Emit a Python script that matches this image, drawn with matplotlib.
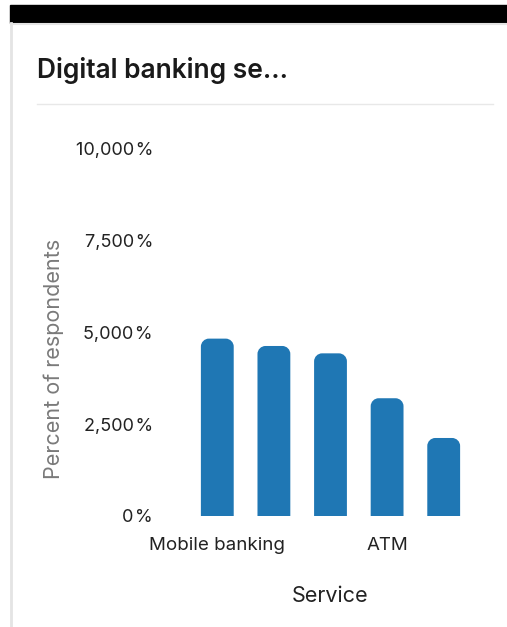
import numpy as np
import matplotlib.pyplot as plt
from matplotlib.patches import Rectangle, PathPatch
from matplotlib.path import Path
from matplotlib.lines import Line2D
from matplotlib.ticker import FuncFormatter

# Survey data: share of respondents per service
services = ["Mobile banking", "Internet banking", "Card payments", "ATM", "Mobile wallet"]
respondents_pct = [4820, 4620, 4420, 3200, 2120]
y_ticks = [0, 2500, 5000, 7500, 10000]
shown_ticks = [0, 3]  # only every third category label fits

plt.rcParams["font.family"] = ["Inter", "DejaVu Sans"]

W, H = 507, 627
fig = plt.figure(figsize=(W / 100, H / 100), dpi=100)


def px(x, y):
    """Pixel position (from top-left) to figure fraction."""
    return x / W, 1 - y / H


# Card frame and header strip
fig.patches.append(Rectangle(px(10, 23), 1, 18 / H, transform=fig.transFigure,
                             color="black", zorder=0))
fig.add_artist(Line2D([11 / W, 11 / W], [0, 1 - 23 / H], color="#e4e4e4", lw=2))
fig.add_artist(Line2D([11 / W, 1], [1 - 24 / H] * 2, color="#e4e4e4", lw=1.5))
fig.add_artist(Line2D([37 / W, 493 / W], [1 - 104 / H] * 2, color="#e8e8e8", lw=1))

x0, y0 = px(37, 78)
fig.text(x0, y0, "Digital banking se...", fontsize=19, fontweight="semibold",
         color="#1a1a1a", va="baseline", ha="left")

left, top = px(189, 148)
right, bottom = px(472, 516)
ax = fig.add_axes([left, bottom, right - left, top - bottom])
ax.set_xlim(-0.5, len(services) - 0.5)
ax.set_ylim(0, 10000)
for s in ax.spines.values():
    s.set_visible(False)


def rounded_bar(ax, x, h, width, r_px, color):
    """Bar with rounded top corners, radius given in pixels."""
    bb = ax.get_window_extent()
    x_lo, x_hi = ax.get_xlim()
    y_lo, y_hi = ax.get_ylim()
    rx = r_px * (x_hi - x_lo) / bb.width
    ry = r_px * (y_hi - y_lo) / bb.height
    k = 0.5523
    l, r = x - width / 2, x + width / 2
    verts = [
        (l, 0), (l, h - ry),
        (l, h - ry + k * ry), (l + rx - k * rx, h), (l + rx, h),
        (r - rx, h),
        (r - rx + k * rx, h), (r, h - ry + k * ry), (r, h - ry),
        (r, 0), (l, 0),
    ]
    codes = [Path.MOVETO, Path.LINETO,
             Path.CURVE4, Path.CURVE4, Path.CURVE4,
             Path.LINETO,
             Path.CURVE4, Path.CURVE4, Path.CURVE4,
             Path.LINETO, Path.CLOSEPOLY]
    ax.add_patch(PathPatch(Path(verts, codes), facecolor=color, edgecolor="none"))


for i, v in enumerate(respondents_pct):
    rounded_bar(ax, i, v, 0.58, 8, "#1f77b4")

ax.set_yticks(y_ticks)
ax.yaxis.set_major_formatter(FuncFormatter(lambda v, _: f"{v:,.0f}\u200a%"))
ax.set_xticks(shown_ticks)
ax.set_xticklabels([services[i] for i in shown_ticks])
ax.tick_params(axis="y", length=0, pad=26, labelsize=13, labelcolor="#222222")
ax.tick_params(axis="x", length=0, pad=15, labelsize=13.5, labelcolor="#222222")

ax.set_xlabel("Service", fontsize=15.5, color="#222222", labelpad=23)
lx, ly = px(54, 359)
fig.text(lx, ly, "Percent of respondents", rotation=90, fontsize=15.5,
         color="#7a7a7a", ha="center", va="center")

fig.savefig("out.png", dpi=100, facecolor="white")
